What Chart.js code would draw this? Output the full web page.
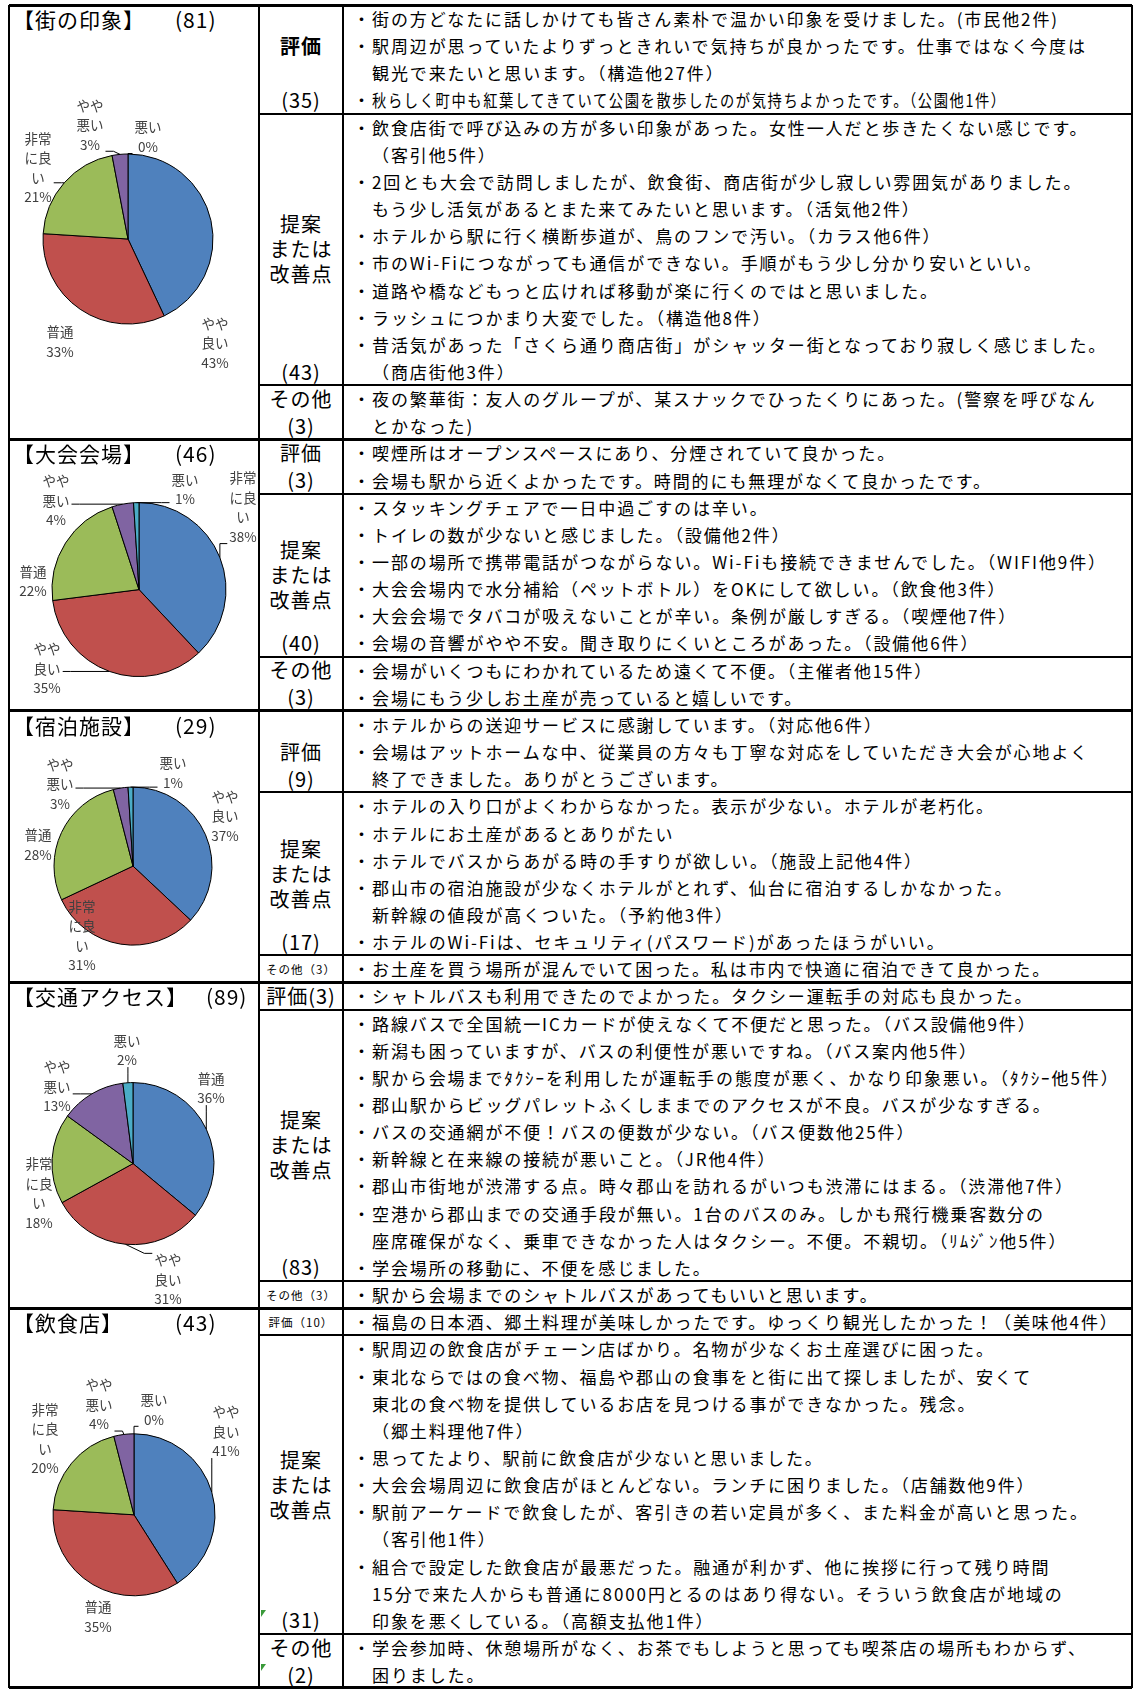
<!DOCTYPE html>
<html><head><meta charset="utf-8">
<title>アンケート結果</title>
<script src="https://cdn.jsdelivr.net/npm/chart.js@4.4.1/dist/chart.umd.min.js"></script>
<style>
html,body{margin:0;padding:0;background:#fff;}
body{position:relative;width:1134px;height:1689px;overflow:hidden;font-family:"Noto Sans CJK JP","Noto Sans",sans-serif;color:#000;}
.a{position:absolute;white-space:nowrap;}
.txt{font-size:17px;letter-spacing:1.9px;transform-origin:0 50%;}
.head{text-align:center;letter-spacing:1px;}
.title{font-size:21px;letter-spacing:1px;}
canvas{position:absolute;}
</style></head><body>
<script>
// pie values (%), slice order clockwise from 12 o'clock
const townLabels = ['やや良い','普通','非常に良い','やや悪い','悪い'];
const townValues = [43,33,21,3,0];
const venueLabels = ['非常に良い','やや良い','普通','やや悪い','悪い'];
const venueValues = [38,35,22,4,1];
const hotelLabels = ['やや良い','非常に良い','普通','やや悪い','悪い'];
const hotelValues = [37,31,28,3,1];
const trafficLabels = ['普通','やや良い','非常に良い','やや悪い','悪い'];
const trafficValues = [36,31,18,13,2];
const foodLabels = ['やや良い','普通','非常に良い','やや悪い','悪い'];
const foodValues = [41,35,20,4,0];
const sliceColors = ['#4F81BD','#C0504D','#9BBB59','#8064A2','#4BACC6'];

const sectionTitles = ['街の印象','大会会場','宿泊施設','交通アクセス','飲食店'];
const sectionCounts = [81,46,29,89,43];
const evalCounts = [35,3,9,3,10];
const ideaCounts = [43,40,17,83,31];
const otherCounts = [3,3,3,3,2];

// comments
const townEval = [
  '・街の方どなたに話しかけても皆さん素朴で温かい印象を受けました。(市民他2件)',
  '・駅周辺が思っていたよりずっときれいで気持ちが良かったです。仕事ではなく今度は',
  '観光で来たいと思います。（構造他27件）',
  '・秋らしく町中も紅葉してきていて公園を散歩したのが気持ちよかったです。（公園他1件）'];
const townIdea = [
  '・飲食店街で呼び込みの方が多い印象があった。女性一人だと歩きたくない感じです。',
  '（客引他5件）',
  '・2回とも大会で訪問しましたが、飲食街、商店街が少し寂しい雰囲気がありました。',
  'もう少し活気があるとまた来てみたいと思います。（活気他2件）',
  '・ホテルから駅に行く横断歩道が、鳥のフンで汚い。（カラス他6件）',
  '・市のWi-Fiにつながっても通信ができない。手順がもう少し分かり安いといい。',
  '・道路や橋などもっと広ければ移動が楽に行くのではと思いました。',
  '・ラッシュにつかまり大変でした。（構造他8件）',
  '・昔活気があった「さくら通り商店街」がシャッター街となっており寂しく感じました。',
  '（商店街他3件）'];
const townOther = [
  '・夜の繁華街：友人のグループが、某スナックでひったくりにあった。(警察を呼びなん',
  'とかなった)'];
const venueEval = [
  '・喫煙所はオープンスペースにあり、分煙されていて良かった。',
  '・会場も駅から近くよかったです。時間的にも無理がなくて良かったです。'];
const venueIdea = [
  '・スタッキングチェアで一日中過ごすのは辛い。',
  '・トイレの数が少ないと感じました。（設備他2件）',
  '・一部の場所で携帯電話がつながらない。Wi-Fiも接続できませんでした。（WIFI他9件）',
  '・大会会場内で水分補給（ペットボトル）をOKにして欲しい。（飲食他3件）',
  '・大会会場でタバコが吸えないことが辛い。条例が厳しすぎる。（喫煙他7件）',
  '・会場の音響がやや不安。聞き取りにくいところがあった。（設備他6件）'];
const venueOther = [
  '・会場がいくつもにわかれているため遠くて不便。（主催者他15件）',
  '・会場にもう少しお土産が売っていると嬉しいです。'];
const hotelEval = [
  '・ホテルからの送迎サービスに感謝しています。（対応他6件）',
  '・会場はアットホームな中、従業員の方々も丁寧な対応をしていただき大会が心地よく',
  '終了できました。ありがとうございます。'];
const hotelIdea = [
  '・ホテルの入り口がよくわからなかった。表示が少ない。ホテルが老朽化。',
  '・ホテルにお土産があるとありがたい',
  '・ホテルでバスからあがる時の手すりが欲しい。（施設上記他4件）',
  '・郡山市の宿泊施設が少なくホテルがとれず、仙台に宿泊するしかなかった。',
  '新幹線の値段が高くついた。（予約他3件）',
  '・ホテルのWi-Fiは、セキュリティ(パスワード)があったほうがいい。'];
const hotelOther = [
  '・お土産を買う場所が混んでいて困った。私は市内で快適に宿泊できて良かった。'];
const trafficEval = [
  '・シャトルバスも利用できたのでよかった。タクシー運転手の対応も良かった。'];
const trafficIdea = [
  '・路線バスで全国統一ICカードが使えなくて不便だと思った。（バス設備他9件）',
  '・新潟も困っていますが、バスの利便性が悪いですね。（バス案内他5件）',
  '・駅から会場までﾀｸｼｰを利用したが運転手の態度が悪く、かなり印象悪い。（ﾀｸｼｰ他5件）',
  '・郡山駅からビッグパレットふくしままでのアクセスが不良。バスが少なすぎる。',
  '・バスの交通網が不便！バスの便数が少ない。（バス便数他25件）',
  '・新幹線と在来線の接続が悪いこと。（JR他4件）',
  '・郡山市街地が渋滞する点。時々郡山を訪れるがいつも渋滞にはまる。（渋滞他7件）',
  '・空港から郡山までの交通手段が無い。1台のバスのみ。しかも飛行機乗客数分の',
  '座席確保がなく、乗車できなかった人はタクシー。不便。不親切。（ﾘﾑｼﾞﾝ他5件）',
  '・学会場所の移動に、不便を感じました。'];
const trafficOther = [
  '・駅から会場までのシャトルバスがあってもいいと思います。'];
const foodEval = [
  '・福島の日本酒、郷土料理が美味しかったです。ゆっくり観光したかった！（美味他4件）'];
const foodIdea = [
  '・駅周辺の飲食店がチェーン店ばかり。名物が少なくお土産選びに困った。',
  '・東北ならではの食べ物、福島や郡山の食事をと街に出て探しましたが、安くて',
  '東北の食べ物を提供しているお店を見つける事ができなかった。残念。',
  '（郷土料理他7件）',
  '・思ってたより、駅前に飲食店が少ないと思いました。',
  '・大会会場周辺に飲食店がほとんどない。ランチに困りました。（店舗数他9件）',
  '・駅前アーケードで飲食したが、客引きの若い定員が多く、また料金が高いと思った。',
  '（客引他1件）',
  '・組合で設定した飲食店が最悪だった。融通が利かず、他に挨拶に行って残り時間',
  '15分で来た人からも普通に8000円とるのはあり得ない。そういう飲食店が地域の',
  '印象を悪くしている。（高額支払他1件）'];
const foodOther = [
  '・学会参加時、休憩場所がなく、お茶でもしようと思っても喫茶店の場所もわからず、',
  '困りました。'];

// layout
const LINE = 27.15, TOP = 5;
const X0 = 9, X1 = 259, X2 = 343, X3 = 1132;
const TEXT_X = 372;
const narrowLines = [townEval[3]];
const smallHeads = [[0,0,0],[0,0,0],[0,0,1],[0,0,1],[1,0,0]];
const pieLayout = [
  {cx:128, cy:239, r:85, pos:[[87,104],[-68,103],[-90,-71],[-38,-114],[20,-102]], leader:[0,0,1,1,1]},
  {cx:139, cy:590, r:87, pos:[[104,-82],[-92,79],[-106,-8],[-83,-89],[46,-100]], leader:[1,1,0,1,1]},
  {cx:133, cy:866, r:79, pos:[[92,-50],[-51,70],[-95,-21],[-73,-82],[40,-93]], leader:[0,0,0,1,1]},
  {cx:133, cy:1164, r:81, pos:[[78,-75],[35,116],[-94,30],[-76,-77],[-6,-113]], leader:[1,1,0,1,1]},
  {cx:134, cy:1515, r:81, pos:[[92,-83],[-36,102],[-89,-76],[-35,-110],[20,-105]], leader:[1,0,0,1,1]}
];

const pies = [[townLabels,townValues],[venueLabels,venueValues],[hotelLabels,hotelValues],
              [trafficLabels,trafficValues],[foodLabels,foodValues]];
const comments = [[townEval,townIdea,townOther],[venueEval,venueIdea,venueOther],
                  [hotelEval,hotelIdea,hotelOther],[trafficEval,trafficIdea,trafficOther],
                  [foodEval,foodIdea,foodOther]];
const headNames = ['評価', ['提案','または','改善点'], 'その他'];

function put(css, text, cls) {
  const d = document.createElement('div');
  d.className = 'a' + (cls ? ' ' + cls : '');
  for (const k in css) d.style[k] = typeof css[k] === 'number' ? css[k] + 'px' : css[k];
  if (text != null) d.textContent = text;
  document.body.appendChild(d);
  return d;
}
function hline(xa, xb, y, w) { put({left:xa, top:y - w/2, width:xb - xa, height:w, background:'#000'}); }
function vline(x, ya, yb, w) { put({left:x - w/2, top:ya, width:w, height:yb - ya, background:'#000'}); }
function head(text, cy, size, bold) {
  put({left:X1, width:X2 - X1, top:cy - 16, height:32, lineHeight:'32px', fontSize:size,
       fontWeight: bold ? 'bold' : 'normal'}, text, 'head');
}

// table
let y = TOP;
const secBounds = [];
comments.forEach((rows, si) => {
  const secTop = y;
  rows.forEach((lines, ri) => {
    const n = lines.length, rowTop = y, rowH = n * LINE;
    lines.forEach((t, k) => {
      const top = rowTop + k * LINE;
      let text = t;
      if (t[0] === '・') {
        put({left:352, top:top, width:19, height:LINE, lineHeight:LINE + 'px', textAlign:'center', letterSpacing:'0px'}, '・', 'txt');
        text = t.slice(1);
      }
      const d = put({left:TEXT_X, top:top, height:LINE, lineHeight:LINE + 'px'}, text, 'txt');
      if (narrowLines.includes(t)) d.style.transform = 'scaleX(0.84)';
    });
    const name = headNames[ri];
    const cnt = [evalCounts, ideaCounts, otherCounts][ri][si];
    if (n === 1) {
      if (smallHeads[si][ri]) head(name + '（' + cnt + '）', rowTop + LINE/2, 11.5);
      else head(name + '(' + cnt + ')', rowTop + LINE/2, 20);
    } else if (n === 2) {
      head(name, rowTop + LINE/2, 20);
      head('(' + cnt + ')', rowTop + 1.5*LINE, 20);
    } else if (n <= 4) {
      head(name, rowTop + 1.5*LINE, 20, si === 0);
      head('(' + cnt + ')', rowTop + (n - 0.5)*LINE, 20);
    } else {
      const parts = Array.isArray(name) ? name : [name];
      const mid = rowTop + rowH/2;
      parts.forEach((p, k) => head(p, mid + (k - (parts.length - 1)/2) * 25, 20));
      head('(' + cnt + ')', rowTop + (n - 0.5)*LINE, 20);
    }
    y += rowH;
    if (ri < rows.length - 1) hline(X1, X3, y, 2);
  });
  secBounds.push([secTop, y]);
  hline(X0, X3, secTop, 3);
});
hline(X0, X3, y - 1, 3);
vline(X0, TOP, y, 2);
vline(X1, TOP, y, 2.5);
vline(X2, TOP, y, 2.5);
vline(X3, TOP, y, 2);

// error-corner marks
[[1610],[1664]].forEach(([ty]) => {
  put({left:261, top:ty, width:0, height:0, borderTop:'7px solid #3a9a3a', borderRight:'5px solid transparent'});
});

// pie labels with leader lines
function wrap2(s) { const out = []; for (let i = 0; i < s.length; i += 2) out.push(s.slice(i, i + 2)); return out; }
const outLabels = {
  id: 'outLabels',
  afterDraw(chart, args, opts) {
    const ctx = chart.ctx;
    const meta = chart.getDatasetMeta(0);
    const ds = chart.data.datasets[0];
    const lh = 19.5;
    ctx.save();
    ctx.font = '13.5px "Noto Sans CJK JP"';
    ctx.textAlign = 'center';
    ctx.textBaseline = 'middle';
    meta.data.forEach((arc, i) => {
      const lines = wrap2(chart.data.labels[i]).concat([ds.data[i] + '%']);
      const lx = arc.x + opts.pos[i][0], ly = arc.y + opts.pos[i][1];
      const h = lines.length * lh;
      const w = Math.max(...lines.map(s => ctx.measureText(s).width));
      ctx.fillStyle = '#404040';
      lines.forEach((s, k) => ctx.fillText(s, lx, ly - h/2 + lh*(k + 0.5)));
      if (!opts.leader[i]) return;
      const midA = (arc.startAngle + arc.endAngle) / 2;
      const tx = arc.x + Math.cos(midA) * arc.outerRadius;
      const ty = arc.y + Math.sin(midA) * arc.outerRadius;
      const bx0 = lx - w/2 - 2, bx1 = lx + w/2 + 2, by0 = ly - h/2 + 3, by1 = ly + h/2 - 3;
      const ax = Math.min(Math.max(tx, bx0), bx1), ay = Math.min(Math.max(ty, by0), by1);
      ctx.strokeStyle = '#000';
      ctx.lineWidth = 1;
      ctx.beginPath();
      ctx.moveTo(ax, ay);
      if (tx < bx0 || tx > bx1) ctx.lineTo(ax + Math.sign(tx - ax) * Math.min(8, Math.abs(tx - ax)), ay);
      else ctx.lineTo(ax, ay + Math.sign(ty - ay) * Math.min(6, Math.abs(ty - ay)));
      ctx.lineTo(tx, ty);
      ctx.stroke();
    });
    ctx.restore();
  }
};

secBounds.forEach(([top, bottom], si) => {
  // title
  const t = put({left:13, top:top + 14 - 16, height:32, lineHeight:'32px'}, null, 'title');
  const a = document.createElement('span');
  a.textContent = '【' + sectionTitles[si] + '】';
  a.style.display = 'inline-block'; a.style.minWidth = '144px'; a.style.marginRight = '18px';
  const b = document.createElement('span');
  b.textContent = '(' + sectionCounts[si] + ')';
  t.appendChild(a); t.appendChild(b);

  // pie
  const L = pieLayout[si];
  const cv = document.createElement('canvas');
  const left = 10, ctop = top + 2, W = 247, H = Math.round(bottom - top - 3);
  cv.width = W; cv.height = H;
  cv.style.left = left + 'px'; cv.style.top = ctop + 'px';
  cv.style.width = W + 'px'; cv.style.height = H + 'px';
  document.body.appendChild(cv);
  const cx = L.cx - left, cy = L.cy - ctop, r = L.r;
  new Chart(cv, {
    type: 'pie',
    data: {
      labels: pies[si][0],
      datasets: [{ data: pies[si][1], backgroundColor: sliceColors, borderColor: '#000',
                   borderWidth: 1, hoverOffset: 0, offset: 0 }]
    },
    options: {
      responsive: false,
      animation: false,
      events: [],
      layout: { padding: { left: cx - r - 0.5, right: W - cx - r - 0.5, top: cy - r - 0.5, bottom: H - cy - r - 0.5 } },
      plugins: { legend: { display: false }, tooltip: { enabled: false },
                 outLabels: { pos: L.pos, leader: L.leader } }
    },
    plugins: [outLabels]
  });
});
</script>
</body>
</html>
